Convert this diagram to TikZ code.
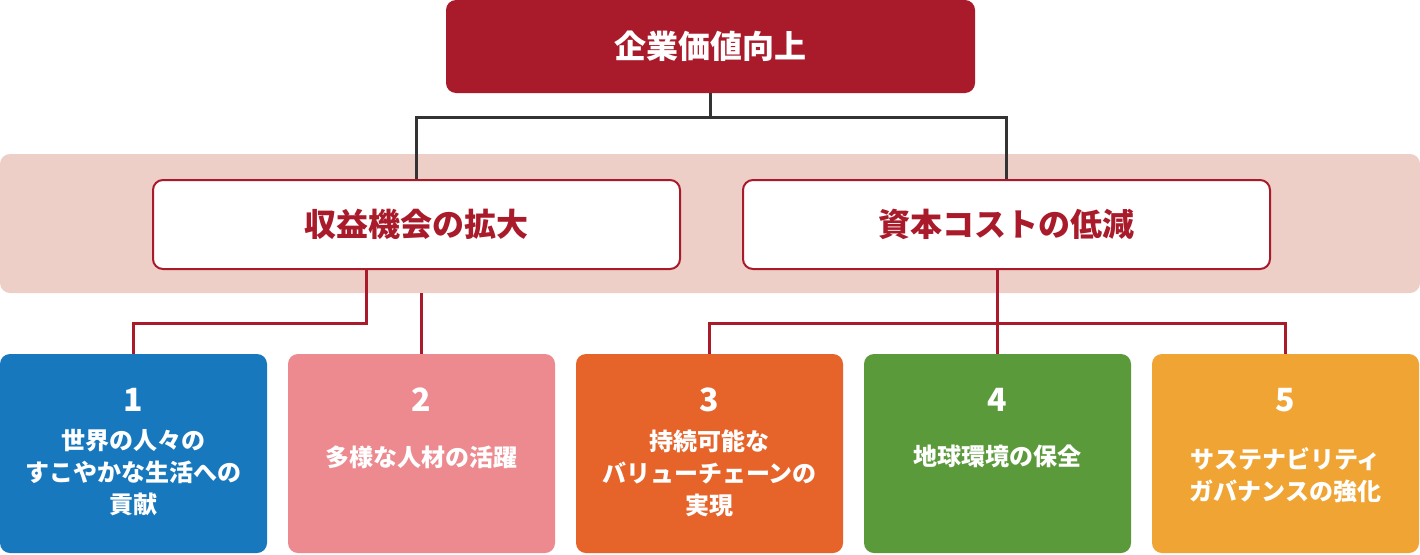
\documentclass[tikz,border=0pt]{standalone}
\usepackage{fontspec}
\setmainfont{Noto Sans CJK JP}
\usepackage{tikz}
\usetikzlibrary{positioning}
\usepackage{xcolor}
\definecolor{valred}{HTML}{A91B2A}
\definecolor{bandpink}{HTML}{EECFC7}
\definecolor{linegray}{HTML}{333333}
\definecolor{cblue}{HTML}{1878BE}
\definecolor{cpink}{HTML}{EC8A8F}
\definecolor{corange}{HTML}{E6632A}
\definecolor{cgreen}{HTML}{5B9A3B}
\definecolor{cyellow}{HTML}{F0A433}

\begin{document}
\begin{tikzpicture}[x=1pt,y=-1pt,
  topbox/.style={fill=valred,text=white,rounded corners=10pt,minimum width=529pt,minimum height=93pt,font=\fontsize{32}{38}\selectfont\bfseries},
  midbox/.style={fill=white,draw=valred,line width=2pt,text=valred,rounded corners=10pt,minimum width=527pt,minimum height=89pt,font=\fontsize{32}{38}\selectfont\bfseries},
  goalbox/.style={rounded corners=10pt,minimum width=267pt,minimum height=199pt,inner sep=0pt},
  goalnum/.style={text=white,font=\fontsize{32}{38}\selectfont\bfseries},
  goaltext/.style={text=white,align=center,font=\fontsize{24}{32}\selectfont\bfseries},
  darkline/.style={linegray,line width=3pt},
  redline/.style={valred,line width=3pt}]
\useasboundingbox (0,0) rectangle (1420,554);
% band behind the two middle boxes
\node[fill=bandpink,rounded corners=10pt,minimum width=1420pt,minimum height=139pt,inner sep=0pt] (band) at (710,223.5) {};
\node[topbox] (value) at (710.5,46.5) {企業価値向上};
\node[midbox] (revenue) at (416.5,224.5) {収益機会の拡大};
\node[midbox] (capcost) at (1006.5,224.5) {資本コストの低減};
% five goals
\node[goalbox,fill=cblue] (health) at (133.5,453.5) {};
\node[goalbox,fill=cpink] (diversity) at (421.5,453.5) {};
\node[goalbox,fill=corange] (chain) at (709.5,453.5) {};
\node[goalbox,fill=cgreen] (climate) at (997.5,453.5) {};
\node[goalbox,fill=cyellow] (governance) at (1285.5,453.5) {};
\node[goalnum] (n1) at (133.5,400) {1};
\node[goalnum] (n2) at (421.5,400) {2};
\node[goalnum] (n3) at (709.5,400) {3};
\node[goalnum] (n4) at (997.5,400) {4};
\node[goalnum] (n5) at (1285.5,400) {5};
\node[goaltext] (t1) at (133.5,473) {世界の人々の\\すこやかな生活への\\貢献};
\node[goaltext] (t2) at (421.5,457) {多様な人材の活躍};
\node[goaltext] (t3) at (709.5,473) {持続可能な\\バリューチェーンの\\実現};
\node[goaltext] (t4) at (997.5,456) {地球環境の保全};
\node[goaltext] (t5) at (1285.5,475) {サステナビリティ\\ガバナンスの強化};
% connectors
\coordinate (topjoin) at (710.5,117);
\coordinate (leftjoin) at (366,323);
\draw[darkline] (value.south) -- (topjoin);
\draw[darkline] (revenue.north) |- (topjoin) -| (capcost.north);
\draw[redline] (revenue.south -| leftjoin) -- (leftjoin) -| (health.north);
\draw[redline] (band.south -| diversity.north) -- (diversity.north);
\draw[redline] (capcost.south -| climate.north) -- (climate.north);
\draw[redline] (chain.north) |- (climate.north |- leftjoin) -| (governance.north);
\end{tikzpicture}
\end{document}
